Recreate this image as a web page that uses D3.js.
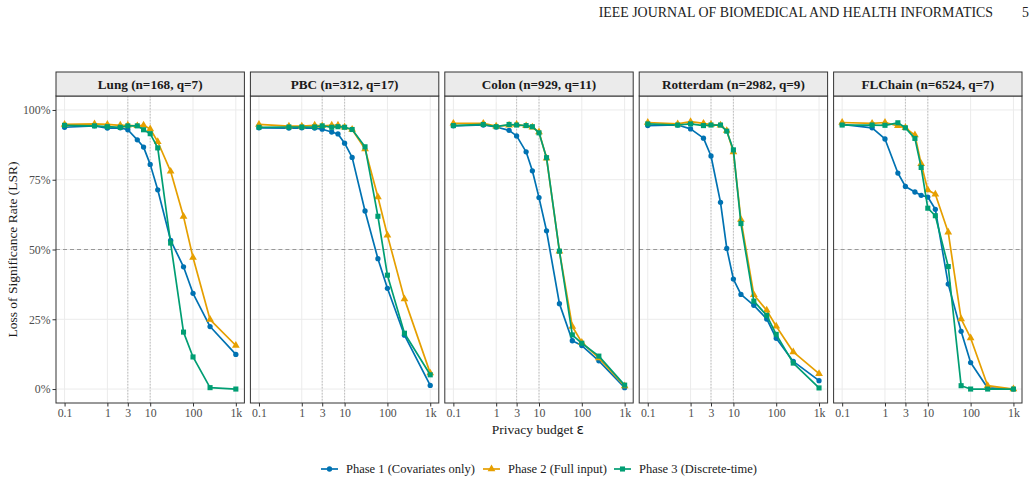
<!DOCTYPE html>
<html>
<head>
<meta charset="utf-8">
<script src="https://cdn.jsdelivr.net/npm/d3@7"></script>
<style>
  body { margin: 0; background: #fff; }
  svg { display: block; font-family: "Liberation Serif", "DejaVu Serif", serif; }
</style>
</head>
<body>
<div id="chart"></div>
<script>
// privacy budgets (epsilon) evaluated in every panel
var epsilons = [0.1, 0.5, 1, 2, 3, 5, 7, 10, 15, 30, 60, 100, 250, 1000];
var xTickValues = [0.1, 1, 3, 10, 100, 1000];
var xTickLabels = ["0.1", "1", "3", "10", "100", "1k"];
var yTickValues = [0, 0.25, 0.5, 0.75, 1];
var yTickLabels = ["0%", "25%", "50%", "75%", "100%"];

var datasets = ["Lung (n=168, q=7)", "PBC (n=312, q=17)", "Colon (n=929, q=11)", "Rotterdam (n=2982, q=9)", "FLChain (n=6524, q=7)"];
var phases = ["Phase 1 (Covariates only)", "Phase 2 (Full input)", "Phase 3 (Discrete-time)"];

// LSR per dataset, one array per phase (aligned with epsilons)
var lungP1 = [0.938, 0.943, 0.935, 0.936, 0.929, 0.893, 0.867, 0.805, 0.714, 0.533, 0.438, 0.343, 0.224, 0.124];
var lungP2 = [0.948, 0.950, 0.948, 0.945, 0.945, 0.943, 0.945, 0.932, 0.886, 0.780, 0.618, 0.471, 0.249, 0.156];
var lungP3 = [0.945, 0.943, 0.940, 0.938, 0.943, 0.943, 0.929, 0.915, 0.864, 0.523, 0.204, 0.115, 0.005, 0.000];

var pbcP1 = [0.936, 0.935, 0.936, 0.935, 0.931, 0.921, 0.914, 0.881, 0.830, 0.638, 0.467, 0.361, 0.193, 0.013];
var pbcP2 = [0.948, 0.942, 0.942, 0.945, 0.943, 0.945, 0.945, 0.938, 0.930, 0.860, 0.688, 0.551, 0.323, 0.057];
var pbcP3 = [0.938, 0.939, 0.939, 0.939, 0.943, 0.938, 0.940, 0.938, 0.930, 0.868, 0.619, 0.408, 0.200, 0.051];

var colonP1 = [0.943, 0.946, 0.939, 0.927, 0.907, 0.850, 0.782, 0.686, 0.567, 0.306, 0.173, 0.156, 0.101, 0.005];
var colonP2 = [0.952, 0.952, 0.942, 0.945, 0.948, 0.943, 0.938, 0.921, 0.827, 0.494, 0.224, 0.167, 0.111, 0.011];
var colonP3 = [0.944, 0.948, 0.940, 0.948, 0.946, 0.944, 0.940, 0.918, 0.829, 0.494, 0.194, 0.164, 0.118, 0.014];

var rotterdamP1 = [0.944, 0.946, 0.932, 0.899, 0.835, 0.669, 0.504, 0.394, 0.339, 0.300, 0.251, 0.182, 0.099, 0.030];
var rotterdamP2 = [0.955, 0.950, 0.958, 0.952, 0.948, 0.945, 0.926, 0.849, 0.607, 0.338, 0.282, 0.225, 0.133, 0.055];
var rotterdamP3 = [0.950, 0.946, 0.950, 0.944, 0.946, 0.946, 0.924, 0.857, 0.593, 0.315, 0.264, 0.196, 0.093, 0.004];

var flchainP1 = [0.948, 0.936, 0.896, 0.774, 0.726, 0.706, 0.694, 0.688, 0.644, 0.376, 0.207, 0.095, 0.004, 0.000];
var flchainP2 = [0.955, 0.952, 0.955, 0.943, 0.936, 0.910, 0.807, 0.713, 0.698, 0.562, 0.251, 0.183, 0.012, 0.000];
var flchainP3 = [0.946, 0.946, 0.945, 0.954, 0.936, 0.898, 0.794, 0.648, 0.621, 0.439, 0.012, 0.000, 0.000, 0.000];

var panelSeries = [
    [lungP1, lungP2, lungP3],
    [pbcP1, pbcP2, pbcP3],
    [colonP1, colonP2, colonP3],
    [rotterdamP1, rotterdamP2, rotterdamP3],
    [flchainP1, flchainP2, flchainP3]
];

var colors = ["#0072B2", "#E69F00", "#009E73"];
var shapes = [d3.symbolCircle, d3.symbolTriangle, d3.symbolSquare];
var shapeSizes = [22, 26, 26];

var W = 1034, H = 484;
var plotLeft = 56, plotRight = 1022, gap = 6;
var panelW = (plotRight - plotLeft - 4 * gap) / 5;
var stripTop = 72, panelTop = 96, panelBottom = 403;

var svg = d3.select("#chart").append("svg").attr("width", W).attr("height", H);

// running page header
svg.append("text")
    .attr("x", 993).attr("y", 17)
    .attr("text-anchor", "end")
    .attr("font-size", 13.9)
    .attr("fill", "#222")
    .text("IEEE JOURNAL OF BIOMEDICAL AND HEALTH INFORMATICS");
svg.append("text")
    .attr("x", 1029).attr("y", 17)
    .attr("text-anchor", "end")
    .attr("font-size", 13.9)
    .attr("fill", "#222")
    .text("5");

var y = d3.scaleLinear().domain([-0.05, 1.05]).range([panelBottom, panelTop]);

datasets.forEach(function (name, pi) {
    var x0 = plotLeft + pi * (panelW + gap);
    var x = d3.scaleLog().domain([Math.pow(10, -1.2), Math.pow(10, 3.2)]).range([x0, x0 + panelW]);
    var g = svg.append("g");

    // grid
    g.selectAll(".gx").data(xTickValues).enter().append("line")
        .attr("x1", function (d) { return x(d); }).attr("x2", function (d) { return x(d); })
        .attr("y1", panelTop).attr("y2", panelBottom)
        .attr("stroke", "#ebebeb").attr("stroke-width", 1);
    g.selectAll(".gy").data(yTickValues).enter().append("line")
        .attr("x1", x0).attr("x2", x0 + panelW)
        .attr("y1", function (d) { return y(d); }).attr("y2", function (d) { return y(d); })
        .attr("stroke", "#ebebeb").attr("stroke-width", 1);

    // reference lines
    g.selectAll(".vref").data([3, 10]).enter().append("line")
        .attr("x1", function (d) { return x(d); }).attr("x2", function (d) { return x(d); })
        .attr("y1", panelTop).attr("y2", panelBottom)
        .attr("stroke", "#b3b3b3").attr("stroke-width", 0.8).attr("stroke-dasharray", "1.5,1.5");
    g.append("line")
        .attr("x1", x0).attr("x2", x0 + panelW)
        .attr("y1", y(0.5)).attr("y2", y(0.5))
        .attr("stroke", "#999").attr("stroke-width", 1).attr("stroke-dasharray", "4,3");

    // series
    panelSeries[pi].forEach(function (vals, si) {
        var pts = epsilons.map(function (e, i) { return [e, vals[i]]; });
        var line = d3.line().x(function (d) { return x(d[0]); }).y(function (d) { return y(d[1]); });
        g.append("path").datum(pts)
            .attr("d", line)
            .attr("fill", "none")
            .attr("stroke", colors[si])
            .attr("stroke-width", 1.7)
            .attr("stroke-linejoin", "round");
        g.selectAll(".pt" + si).data(pts).enter().append("path")
            .attr("transform", function (d) { return "translate(" + x(d[0]) + "," + y(d[1]) + ")"; })
            .attr("d", d3.symbol().type(shapes[si]).size(shapeSizes[si]))
            .attr("fill", colors[si]);
    });

    // panel border
    g.append("rect")
        .attr("x", x0).attr("y", panelTop).attr("width", panelW).attr("height", panelBottom - panelTop)
        .attr("fill", "none").attr("stroke", "#333").attr("stroke-width", 1);

    // strip
    g.append("rect")
        .attr("x", x0).attr("y", stripTop).attr("width", panelW).attr("height", panelTop - stripTop)
        .attr("fill", "#ebebeb").attr("stroke", "#333").attr("stroke-width", 1);
    g.append("text")
        .attr("x", x0 + panelW / 2).attr("y", (stripTop + panelTop) / 2 + 4.7)
        .attr("text-anchor", "middle")
        .attr("font-size", 13.2).attr("font-weight", "bold").attr("fill", "#1a1a1a")
        .text(name);

    // x axis
    var xAxis = d3.axisBottom(x).tickValues(xTickValues)
        .tickFormat(function (d, i) { return xTickLabels[i]; })
        .tickSize(3.5).tickPadding(2);
    var ax = g.append("g").attr("transform", "translate(0," + panelBottom + ")").call(xAxis);
    ax.select(".domain").remove();
    ax.selectAll(".tick line").attr("stroke", "#333");
    ax.selectAll(".tick text").attr("fill", "#4d4d4d").attr("font-size", 11.8)
        .attr("font-family", "Liberation Serif, serif");

    if (pi === 0) {
        var yAxis = d3.axisLeft(y).tickValues(yTickValues)
            .tickFormat(function (d, i) { return yTickLabels[i]; })
            .tickSize(3.5).tickPadding(2);
        var ay = g.append("g").attr("transform", "translate(" + x0 + ",0)").call(yAxis);
        ay.select(".domain").remove();
        ay.selectAll(".tick line").attr("stroke", "#333");
        ay.selectAll(".tick text").attr("fill", "#4d4d4d").attr("font-size", 11.8)
            .attr("font-family", "Liberation Serif, serif");
    }
});

// axis titles
svg.append("text")
    .attr("transform", "translate(17," + ((panelTop + panelBottom) / 2) + ") rotate(-90)")
    .attr("text-anchor", "middle")
    .attr("font-size", 13.5).attr("fill", "#1a1a1a")
    .text("Loss of Significance Rate (LSR)");
var xt = svg.append("text")
    .attr("x", 538).attr("y", 434)
    .attr("text-anchor", "middle")
    .attr("font-size", 13.5).attr("fill", "#1a1a1a");
xt.append("tspan").text("Privacy budget  ");
xt.append("tspan").attr("font-family", "DejaVu Sans, sans-serif").attr("font-size", 14).text("ε");

// legend
var legendX = [321, 483, 614];
phases.forEach(function (p, i) {
    var lg = svg.append("g").attr("transform", "translate(" + legendX[i] + ",469)");
    lg.append("line").attr("x1", 0).attr("x2", 17).attr("y1", 0).attr("y2", 0)
        .attr("stroke", colors[i]).attr("stroke-width", 1.7);
    lg.append("path").attr("transform", "translate(8.5,0)")
        .attr("d", d3.symbol().type(shapes[i]).size(shapeSizes[i]))
        .attr("fill", colors[i]);
    lg.append("text").attr("x", 25).attr("y", 4.3)
        .attr("font-size", 12.5).attr("fill", "#1a1a1a")
        .text(p);
});
</script>
</body>
</html>
